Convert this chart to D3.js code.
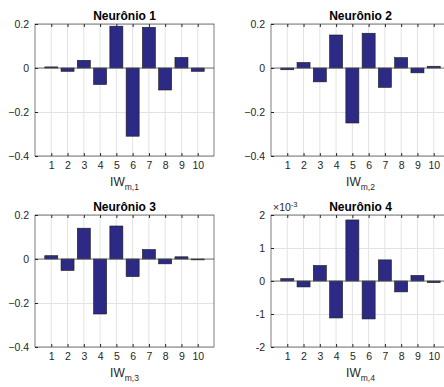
<!DOCTYPE html>
<html>
<head>
<meta charset="utf-8">
<script src="https://cdn.jsdelivr.net/npm/d3@7"></script>
<style>
  body { margin: 0; background: #fff; }
  svg { display: block; font-family: "Liberation Sans", Arial, sans-serif; }
</style>
</head>
<body>
<svg id="chart" width="444" height="387"></svg>
<script>
// weights, one array per neuron
const inputs = [1, 2, 3, 4, 5, 6, 7, 8, 9, 10];
const neuron1 = [0.005, -0.015, 0.035, -0.075, 0.19, -0.31, 0.185, -0.1, 0.048, -0.015];
const neuron2 = [-0.008, 0.025, -0.063, 0.15, -0.25, 0.158, -0.088, 0.047, -0.022, 0.008];
const neuron3 = [0.015, -0.052, 0.14, -0.25, 0.15, -0.08, 0.043, -0.022, 0.01, -0.004];
const neuron4 = [0.00007, -0.00018, 0.00047, -0.00112, 0.00185, -0.00115, 0.00064, -0.00033, 0.00017, -0.00005];

const titles = ['Neurônio 1', 'Neurônio 2', 'Neurônio 3', 'Neurônio 4'];
const yTicksA = [-0.4, -0.2, 0, 0.2];
const yTicksB = [-0.002, -0.001, 0, 0.001, 0.002];

const BAR_COLOR = '#2c2a85';
const GRID_COLOR = '#e3e3e3';
const AXIS_COLOR = '#262626';

const svg = d3.select('#chart');

const panels = [
  { values: neuron1, left: 35, top: 24, yDomain: [-0.4, 0.2], yTicks: yTicksA, fmt: d => d === 0 ? '0' : d3.format('.1f')(d), sub: 'm,1' },
  { values: neuron2, left: 271, top: 24, yDomain: [-0.4, 0.2], yTicks: yTicksA, fmt: d => d === 0 ? '0' : d3.format('.1f')(d), sub: 'm,2' },
  { values: neuron3, left: 35, top: 215, yDomain: [-0.4, 0.2], yTicks: yTicksA, fmt: d => d === 0 ? '0' : d3.format('.1f')(d), sub: 'm,3' },
  { values: neuron4, left: 271, top: 215, yDomain: [-0.002, 0.002], yTicks: yTicksB, fmt: d => String(Math.round(d * 1000)), sub: 'm,4', exponent: true }
];

const W = 179, H = 132;

panels.forEach((p, i) => {
  const g = svg.append('g').attr('transform', `translate(${p.left},${p.top})`);

  const x = d3.scaleLinear().domain([0, 11]).range([0, W]);
  const y = d3.scaleLinear().domain(p.yDomain).range([H, 0]);
  const barW = x(0.8) - x(0);

  // grid
  g.selectAll('.gx').data(inputs).enter().append('line')
    .attr('x1', d => x(d)).attr('x2', d => x(d))
    .attr('y1', 0).attr('y2', H)
    .attr('stroke', GRID_COLOR).attr('stroke-width', 1);
  g.selectAll('.gy').data(p.yTicks).enter().append('line')
    .attr('x1', 0).attr('x2', W)
    .attr('y1', d => Math.round(y(d)) + 0.5).attr('y2', d => Math.round(y(d)) + 0.5)
    .attr('stroke', GRID_COLOR).attr('stroke-width', 1);

  // bars
  g.selectAll('rect.bar').data(p.values).enter().append('rect')
    .attr('class', 'bar')
    .attr('x', (d, j) => x(inputs[j]) - barW / 2)
    .attr('y', d => y(Math.max(0, d)))
    .attr('width', barW)
    .attr('height', d => Math.abs(y(d) - y(0)))
    .attr('fill', BAR_COLOR)
    .attr('stroke', '#1a1a1a')
    .attr('stroke-width', 0.6);

  // baseline
  g.append('line')
    .attr('x1', 0).attr('x2', W)
    .attr('y1', y(0)).attr('y2', y(0))
    .attr('stroke', '#555').attr('stroke-width', 0.8);

  // axes
  const xAxis = d3.axisBottom(x).tickValues(inputs).tickSize(-3).tickPadding(6).tickFormat(d3.format('d'));
  const yAxis = d3.axisLeft(y).tickValues(p.yTicks).tickSize(-3).tickPadding(6).tickFormat(p.fmt);

  const gx = g.append('g').attr('transform', `translate(0,${H})`).call(xAxis);
  const gy = g.append('g').call(yAxis);
  // top ticks
  g.append('g').call(d3.axisTop(x).tickValues(inputs).tickSize(-3).tickFormat(''));

  [gx, gy].forEach(a => {
    a.selectAll('text').attr('fill', AXIS_COLOR).style('font-size', '10.5px');
  });
  g.selectAll('.tick line').attr('stroke', AXIS_COLOR);
  g.selectAll('.domain').remove();

  g.append('rect')
    .attr('x', 0).attr('y', 0).attr('width', W).attr('height', H)
    .attr('fill', 'none').attr('stroke', AXIS_COLOR).attr('stroke-width', 0.6);

  // title
  g.append('text')
    .attr('x', W / 2).attr('y', -4)
    .attr('text-anchor', 'middle')
    .style('font-size', '12px').style('font-weight', 'bold')
    .attr('fill', '#000')
    .text(titles[i]);

  // x label
  const lbl = g.append('text')
    .attr('x', W / 2).attr('y', H + 30)
    .attr('text-anchor', 'middle')
    .style('font-size', '12px')
    .attr('fill', AXIS_COLOR);
  lbl.append('tspan').text('IW');
  lbl.append('tspan').attr('dy', 4).style('font-size', '8.5px').text(p.sub);

  if (p.exponent) {
    const ex = g.append('text')
      .attr('x', 2).attr('y', -4)
      .style('font-size', '10.5px')
      .attr('fill', AXIS_COLOR);
    ex.append('tspan').text('×10');
    ex.append('tspan').attr('dy', -4).style('font-size', '7.5px').text('-3');
  }
});
</script>
</body>
</html>
